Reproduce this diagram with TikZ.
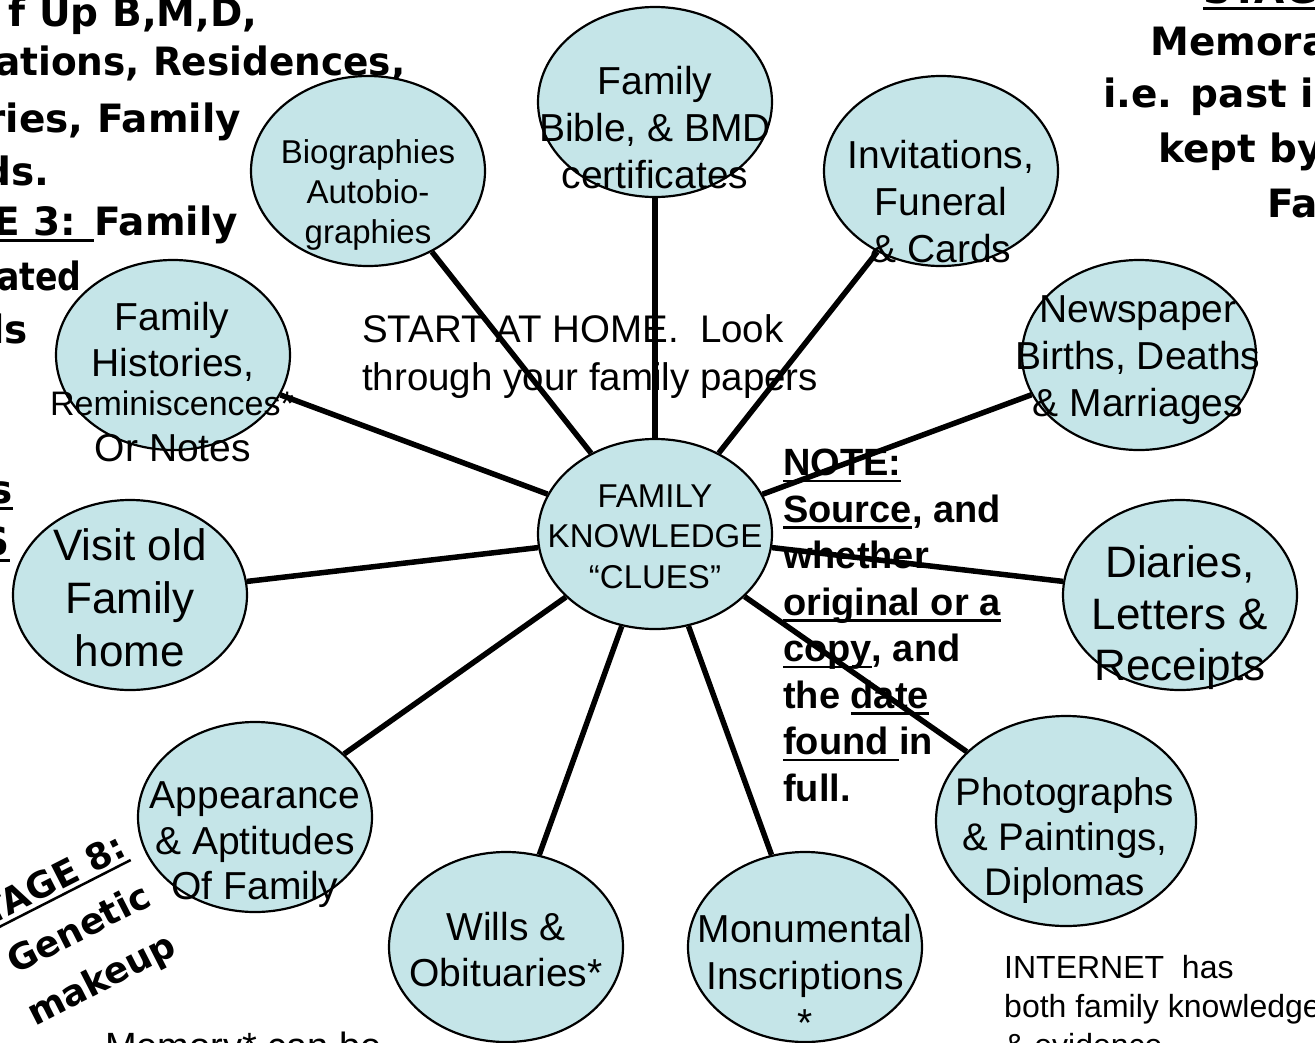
\documentclass[tikz,border=0pt]{standalone}
\usepackage{fontspec}
\usepackage{graphicx}
\setmainfont{Liberation Sans}
\newfontfamily\comic{DejaVu Sans}
\usetikzlibrary{shapes.geometric}
\definecolor{bubblefill}{RGB}{197,229,232}
\newcommand\fs[2]{\fontsize{#1pt}{#2pt}\selectfont}
\newsavebox\myulbox
\newcommand\myul[1]{\sbox\myulbox{#1}\rlap{\rule[-6.5pt]{\wd\myulbox}{2.5pt}}\usebox\myulbox}
\begin{document}
\begin{tikzpicture}[x=1pt,y=-1pt,
  bubble/.style={ellipse,draw=black,line width=2.2pt,fill=bubblefill,inner sep=0pt,minimum width=234pt,minimum height=190pt},
  spoke/.style={line width=5.5pt,black},
  btext/.style={align=center,inner sep=0pt},
  bline/.style={inner sep=0pt,anchor=base},
  comictext/.style={font=\comic\bfseries\fs{39}{53},inner sep=0pt,anchor=base east},
  plain/.style={inner sep=0pt,align=left}]
\useasboundingbox (0,0) rectangle (1315,1042);
\clip (0,0) rectangle (1315,1042);

% background texts
\node[comictext] (c1) at (258,26) {f Up B,M,D,};
\node[comictext,anchor=base west] (c2) at (-5,75) {\scalebox{0.96}[1]{ations, Residences,}};
\node[comictext] (c3) at (241,132) {ries, Family};
\node[comictext] (c4) at (50,185) {ds.};
\node[comictext] (c5) at (238,235) {\myul{E 3: }Family};
\node[comictext,anchor=base west] (c6) at (-3,290) {\scalebox{0.85}[1]{ated}};
\node[comictext] (c7) at (28,343) {ls};
\node[comictext] (c8) at (13,503) {\myul{s}};
\node[comictext] (c9) at (10,555) {\myul{S}};

\node[comictext,anchor=base west] (r0) at (1203,3) {\myul{STAGE 5:}};
\node[comictext,anchor=base west] (r1) at (1150,55) {Memora};
\node[comictext,anchor=base west] (r2) at (1103,107) {i.e. past i};
\node[comictext,anchor=base west] (r3) at (1158,162) {kept by};
\node[comictext,anchor=base west] (r4) at (1267,217) {Fa};

\node[rotate=27,align=right,inner sep=0pt,font=\comic\bfseries\fs{36}{55}] (stage8) at (68,937) {\myul{STAGE 8:}\\Genetic\\makeup};

\node[plain,anchor=north west,font=\fs{38.5}{48}] (start) at (362,314) {START AT HOME.\ \ Look\\through your family papers};
\node[plain,anchor=north west,font=\bfseries\fs{38}{46.5}] (note) at (783,449)
  {\myul{NOTE:}\\\myul{Source}, and\\whether\\\myul{original or a}\\\myul{copy}, and\\the \myul{date}\\\myul{found }in\\full.};
\node[inner sep=0pt,anchor=base west,font=\fs{38}{46}] (memory) at (105,1059) {Memory* can be};
\node[plain,anchor=north west,font=\fs{32}{39}] (internet) at (1004,955) {INTERNET\ \ has\\both family knowledge\\\& evidence};

% bubbles
\node[bubble] (hub) at (655,534) {};
\node[bubble] (bible) at (655,102) {};
\node[bubble] (bio) at (368,171) {};
\node[bubble] (invit) at (941,171) {};
\node[bubble] (hist) at (173,355) {};
\node[bubble] (news) at (1139,355) {};
\node[bubble] (visit) at (130,595) {};
\node[bubble] (diary) at (1180,595) {};
\node[bubble] (appear) at (255,817) {};
\node[bubble,minimum width=260pt,minimum height=210pt] (photo) at (1066,821) {};
\node[bubble] (wills) at (506,947) {};
\node[bubble] (monu) at (805,947) {};

% spokes
\foreach \n in {bible,bio,invit,hist,news,visit,diary,appear,photo,wills,monu}
  \draw[spoke] (hub) -- (\n);

% bubble texts
\node[btext,font=\fs{33}{40.5}] (hubtxt) at (655,536.5) {FAMILY\\KNOWLEDGE\\“CLUES”};
\node[btext,font=\fs{39}{47}] (bibletxt) at (655,127.5) {Family\\Bible, \& BMD\\certificates};
\node[btext,font=\fs{33}{40}] (biotxt) at (368,195) {Biographies\\Autobio-\\graphies};
\node[btext,font=\fs{39}{47}] (invtxt) at (941,201.5) {Invitations,\\Funeral\\\& Cards};
\node[bline,font=\fs{39}{47}] (h1) at (172,330) {Family};
\node[bline,font=\fs{39}{47}] (h2) at (173,376) {Histories,};
\node[bline,font=\fs{34}{41}] (h3) at (172,415) {Reminiscences*};
\node[bline,font=\fs{39}{47}] (h4) at (173,461) {Or Notes};
\node[btext,font=\fs{39}{47}] (newstxt) at (1138,360) {Newspaper\\Births, Deaths\\\& Marriages};
\node[btext,font=\fs{44}{53}] (visittxt) at (130,598) {Visit old\\Family\\home};
\node[btext,font=\fs{44}{51.5}] (diarytxt) at (1180,618) {Diaries,\\Letters \&\\Receipts};
\node[btext,font=\fs{39}{45.5}] (appeartxt) at (255,845) {Appearance\\\& Aptitudes\\Of Family};
\node[btext,font=\fs{38.5}{45}] (phototxt) at (1065,840.5) {Photographs\\\& Paintings,\\Diplomas};
\node[btext,font=\fs{39}{46}] (willstxt) at (506,950) {Wills \&\\Obituaries*};
\node[btext,font=\fs{39}{47}] (monutxt) at (805,975) {Monumental\\Inscriptions\\*};
\end{tikzpicture}
\end{document}
